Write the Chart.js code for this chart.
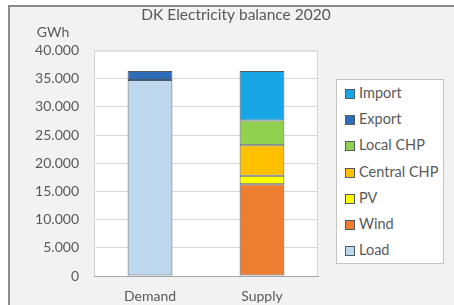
<!DOCTYPE html>
<html>
<head>
<meta charset="utf-8">
<script src="https://cdn.jsdelivr.net/npm/chart.js@4/dist/chart.umd.min.js"></script>
<style>
    html, body { margin: 0; padding: 0; background: #fff; }
    .wrap { position: relative; width: 454px; height: 305px; }
    #legend {
        position: absolute; left: 336px; top: 79px; width: 106px; height: 183px;
        border: 1px solid #c4c4c4; background: #fff;
        font-family: Lato, "Open Sans", sans-serif; font-size: 14.5px; color: #595959;
    }
    #legend div { height: 26.2px; line-height: 26.2px; padding-left: 8px; white-space: nowrap; }
    #legend span.box {
        display: inline-block; width: 8px; height: 8px; border: 1px solid #4d5a66;
        margin-right: 4px; vertical-align: -1px;
    }
</style>
</head>
<body>
<div class="wrap">
    <canvas id="chart" width="454" height="305"></canvas>
    <div id="legend"></div>
</div>
<script>
// 카테고리
const categories = ["Demand", "Supply"];

// 시리즈 (GWh)
const loadData = [34800, null];
const windData = [null, 16300];
const pvData = [null, 1500];
const centralChpData = [null, 5400];
const localChpData = [null, 4400];
const exportData = [1600, null];
const importData = [null, 8800];

// y축 눈금
const yTicks = [0, 5000, 10000, 15000, 20000, 25000, 30000, 35000, 40000];

const textColor = '#595959';
const edgeColor = '#4d5a66';

function makeSet(label, data, color) {
    return {
        label: label,
        data: data,
        backgroundColor: color,
        borderColor: edgeColor,
        borderWidth: 1,
        borderSkipped: false,
        skipNull: true,
        barPercentage: 0.4,
        categoryPercentage: 1
    };
}

const datasets = [
    makeSet('Load', loadData, '#bdd7ee'),
    makeSet('Wind', windData, '#ed7d31'),
    makeSet('PV', pvData, '#ffff00'),
    makeSet('Central CHP', centralChpData, '#ffc000'),
    makeSet('Local CHP', localChpData, '#92d050'),
    makeSet('Export', exportData, '#2e6eb8'),
    makeSet('Import', importData, '#16a6e6')
];

function formatDk(v) {
    return v.toString().replace(/\B(?=(\d{3})+(?!\d))/g, '.');
}

// 배경, 테두리, GWh
const frame = {
    id: 'frame',
    beforeDraw(chart) {
        const ctx = chart.ctx;
        const a = chart.chartArea;
        ctx.save();
        ctx.fillStyle = '#fff';
        ctx.fillRect(0, 0, chart.width, chart.height);
        ctx.fillStyle = '#f2f2f2';
        ctx.fillRect(9, 5, chart.width - 9, chart.height - 5);
        ctx.strokeStyle = '#8a8a8a';
        ctx.lineWidth = 2;
        ctx.beginPath();
        ctx.moveTo(9, chart.height);
        ctx.lineTo(9, 6);
        ctx.lineTo(chart.width, 6);
        ctx.stroke();
        ctx.fillStyle = '#fff';
        ctx.fillRect(a.left, a.top, a.right - a.left, a.bottom - a.top);
        ctx.strokeStyle = '#d4d4d4';
        ctx.lineWidth = 1;
        ctx.strokeRect(a.left + 0.5, a.top + 0.5, a.right - a.left - 1, a.bottom - a.top);
        ctx.restore();
    },
    afterDraw(chart) {
        const ctx = chart.ctx;
        ctx.save();
        ctx.fillStyle = textColor;
        ctx.font = '14px Lato, "Open Sans", sans-serif';
        ctx.textAlign = 'center';
        ctx.textBaseline = 'middle';
        ctx.fillText('GWh', 53, 32);
        ctx.restore();
    }
};

const ctxEl = document.getElementById('chart');
const balanceChart = new Chart(ctxEl, {
    type: 'bar',
    data: { labels: categories, datasets: datasets },
    plugins: [frame],
    options: {
        responsive: false,
        animation: false,
        layout: { padding: { left: 18, right: 0, top: 0, bottom: 0 } },
        scales: {
            x: {
                stacked: true,
                afterFit: s => { s.height = 29; },
                grid: { display: false, drawTicks: false },
                border: { display: true, color: '#a6a6a6' },
                ticks: {
                    padding: 12,
                    color: textColor,
                    font: { family: 'Lato', size: 14 }
                }
            },
            y: {
                stacked: true,
                min: 0,
                max: 40000,
                afterFit: s => { s.width = 76; },
                afterBuildTicks: s => { s.ticks = yTicks.map(v => ({ value: v })); },
                grid: { color: '#d9d9d9', drawTicks: false },
                border: { display: false },
                ticks: {
                    padding: 15,
                    color: textColor,
                    font: { family: 'Lato', size: 14 },
                    callback: v => formatDk(v)
                }
            },
            // 범례 자리
            spacer: {
                position: 'right',
                display: true,
                grid: { display: false, drawTicks: false },
                border: { display: false },
                ticks: { display: false },
                afterFit: s => { s.width = 136; }
            }
        },
        plugins: {
            legend: { display: false },
            tooltip: { enabled: false },
            title: {
                display: true,
                text: 'DK Electricity balance 2020',
                color: textColor,
                font: { family: 'Lato', size: 15.5, weight: 'normal' },
                padding: { top: 6, bottom: 26 }
            }
        }
    }
});

// 범례 (위에서부터 역순)
const legendBox = document.getElementById('legend');
balanceChart.data.datasets.slice().reverse().forEach(ds => {
    const item = document.createElement('div');
    const box = document.createElement('span');
    box.className = 'box';
    box.style.background = ds.backgroundColor;
    item.appendChild(box);
    item.appendChild(document.createTextNode(ds.label));
    legendBox.appendChild(item);
});
</script>
</body>
</html>
